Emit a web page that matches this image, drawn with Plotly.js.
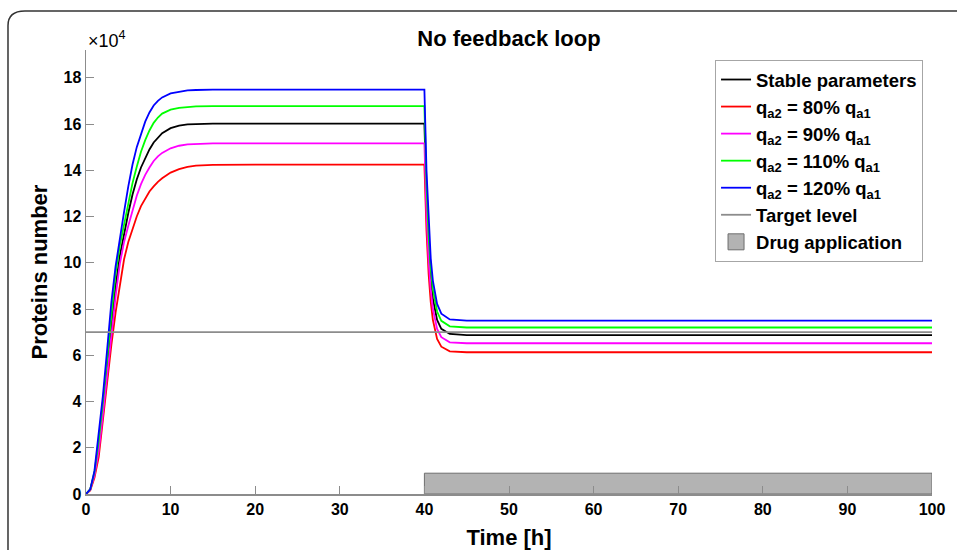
<!DOCTYPE html>
<html>
<head>
<meta charset="utf-8">
<script src="https://cdn.plot.ly/plotly-3.0.1.min.js"></script>
<style>
  html, body { margin: 0; padding: 0; background: #fff; }
  #chart { width: 957px; height: 550px; }
</style>
</head>
<body>
<div id="chart"></div>
<script>
// Time points [h]
const time = [0,0.5,1,1.5,2,2.5,3,3.5,4,4.5,5,5.5,6,6.5,7,7.5,8,8.5,9,10,11,12,13,15,20,30,40,40.25,40.5,40.75,41,41.5,42,43,45,60,80,100];
// Protein numbers (x 10^4)
const stable = [0,0.2,0.85,2.0,3.7,5.55,7.35,9.0,10.3,11.3,12.15,12.95,13.6,14.12,14.55,14.9,15.2,15.42,15.6,15.82,15.93,15.98,16.0,16.02,16.02,16.02,16.02,12.77,10.68,9.32,8.45,7.53,7.14,6.92,6.87,6.87,6.87,6.87];
const q80 = [0,0.15,0.7,1.6,3.2,4.85,6.45,7.85,9.1,10.15,10.9,11.5,12.0,12.45,12.8,13.08,13.3,13.5,13.65,13.9,14.05,14.15,14.2,14.23,14.24,14.24,14.24,11.36,9.50,8.30,7.53,6.71,6.37,6.17,6.13,6.13,6.13,6.13];
const q90 = [0,0.18,0.8,1.85,3.45,5.2,7.05,8.55,9.95,10.9,11.6,12.3,12.9,13.4,13.8,14.12,14.4,14.6,14.75,14.95,15.06,15.12,15.14,15.16,15.16,15.16,15.16,12.09,10.11,8.84,8.01,7.14,6.78,6.56,6.52,6.52,6.52,6.52];
const q110 = [0,0.2,0.95,2.3,4.0,5.95,7.9,9.55,10.75,11.7,12.6,13.45,14.15,14.8,15.3,15.72,16.05,16.28,16.45,16.62,16.7,16.74,16.76,16.77,16.77,16.77,16.77,13.37,11.18,9.76,8.86,7.89,7.49,7.25,7.20,7.20,7.20,7.20];
const q120 = [0,0.2,1.0,2.5,4.25,6.25,8.3,9.85,11.1,12.2,13.3,14.25,15.0,15.6,16.1,16.5,16.8,17.0,17.15,17.32,17.4,17.45,17.47,17.49,17.49,17.49,17.49,13.94,11.66,10.18,9.23,8.22,7.80,7.55,7.50,7.50,7.50,7.50];
// Target level and drug application window
const targetX = [0, 100];
const targetLevel = [7, 7];
const drugX = [40, 100, 100, 40, 40];
const drugY = [0, 0, 0.9, 0.9, 0];
const names = ['Stable parameters',
  'q<sub>a2</sub> = 80% q<sub>a1</sub>',
  'q<sub>a2</sub> = 90% q<sub>a1</sub>',
  'q<sub>a2</sub> = 110% q<sub>a1</sub>',
  'q<sub>a2</sub> = 120% q<sub>a1</sub>',
  'Target level', 'Drug application'];
const xTicks = [0,10,20,30,40,50,60,70,80,90,100];
const yTicks = [0,2,4,6,8,10,12,14,16,18];

const series = [stable, q80, q90, q110, q120];
const colors = ['#000000', '#ff0000', '#ff00ff', '#00ff00', '#0000ff'];
const traces = series.map((s, i) => ({
  x: time, y: s, type: 'scatter', mode: 'lines', name: names[i],
  line: {color: colors[i], width: 1.8}
}));
traces.push({x: targetX, y: targetLevel, type: 'scatter', mode: 'lines', name: names[5],
  line: {color: '#8c8c8c', width: 1.8}});
traces.push({x: drugX, y: drugY, type: 'scatter', mode: 'lines', fill: 'toself', name: names[6],
  showlegend: false, fillcolor: '#b3b3b3', line: {color: '#6e6e6e', width: 1}});
// legend swatch for the drug patch (no data points of its own)
traces.push({x: [null], y: [null], type: 'scatter', mode: 'markers', name: names[6],
  marker: {symbol: 'square', size: 16, color: '#b3b3b3', line: {color: '#6e6e6e', width: 1}}});

const F = 'Liberation Sans, Arial, sans-serif';
const layout = {
  width: 957, height: 550,
  margin: {l: 86, r: 25, t: 50, b: 56},
  paper_bgcolor: '#fff', plot_bgcolor: '#fff',
  font: {family: F, color: '#000'},
  title: {text: 'No feedback loop', font: {size: 22, weight: 'bold', family: F, color: '#000'},
    x: 0.5, xref: 'paper', xanchor: 'center', y: 1 - 38/550, yanchor: 'middle'},
  showlegend: true,
  legend: {x: 0.9894, xanchor: 'right', y: 0.9775, yanchor: 'top',
    bgcolor: '#fff', bordercolor: '#a6a6a6', borderwidth: 1,
    font: {size: 18.5, weight: 'bold', family: F, color: '#000'},
    itemwidth: 30, tracegroupgap: 0},
  xaxis: {range: [0, 100], tickvals: xTicks, ticktext: xTicks.map(String),
    showgrid: false, zeroline: false, showline: true, linecolor: '#8c8c8c', linewidth: 1.5,
    ticks: 'inside', ticklen: 8, tickcolor: '#8c8c8c', tickwidth: 1,
    tickfont: {size: 16, weight: 'bold', family: F, color: '#000'},
    title: {text: 'Time [h]', font: {size: 22, weight: 'bold', family: F, color: '#000'}, standoff: 19}},
  yaxis: {range: [0, 19.2], tickvals: yTicks, ticktext: yTicks.map(String),
    showgrid: false, zeroline: false, showline: true, linecolor: '#8c8c8c', linewidth: 1.5,
    ticks: 'inside', ticklen: 8, tickcolor: '#8c8c8c', tickwidth: 1,
    tickfont: {size: 16, weight: 'bold', family: F, color: '#000'},
    title: {text: 'Proteins number', font: {size: 22, weight: 'bold', family: F, color: '#000'}, standoff: 10}},
  annotations: [{text: '×10<sup>4</sup>', xref: 'paper', yref: 'paper', x: 0, y: 1, xanchor: 'left', yanchor: 'bottom',
    yshift: -3, showarrow: false, font: {size: 18, family: F, color: '#000'}}],
  shapes: [{type: 'path', xref: 'paper', yref: 'paper',
    path: 'M -0.0922,-0.2 L -0.0922,1.055 Q -0.0922,1.0878 -0.0722,1.0878 L 1.1,1.0878',
    line: {color: '#333333', width: 1.5}, layer: 'above'}]
};
Plotly.newPlot('chart', traces, layout, {displayModeBar: false, staticPlot: true});
</script>
</body>
</html>
